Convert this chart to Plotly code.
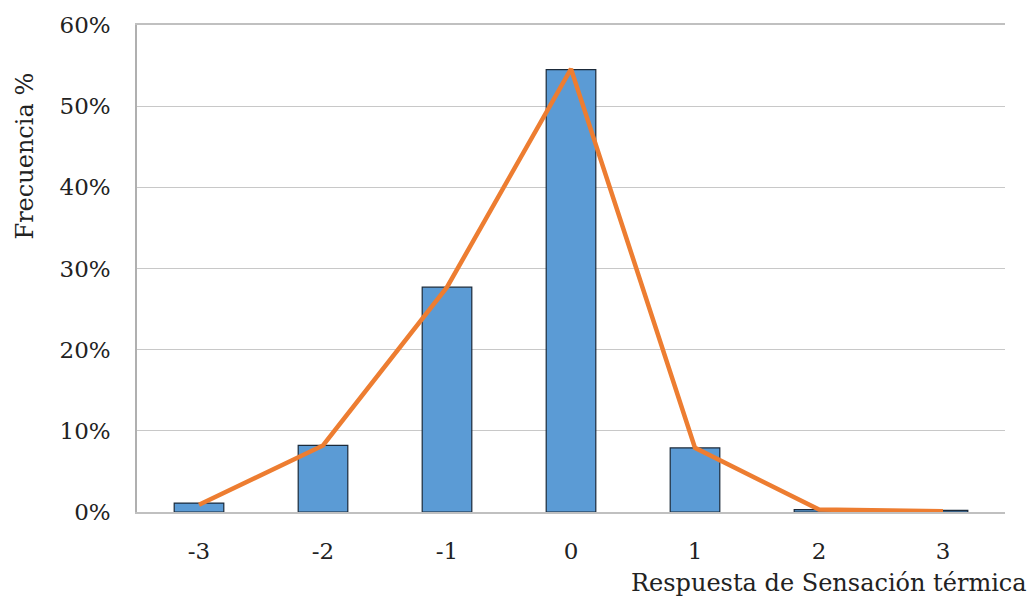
import plotly.graph_objects as go

# Thermal sensation votes (ASHRAE 7-point scale) and their frequency
categorias = [-3, -2, -1, 0, 1, 2, 3]
frecuencia = [1.1, 8.2, 27.7, 54.5, 7.9, 0.3, 0.2]   # % of responses (bars)
tendencia = [0.9, 8.2, 27.7, 54.6, 7.9, 0.3, 0.1]    # % frequency polygon (line)
ticks_y = [0, 10, 20, 30, 40, 50, 60]
etiquetas_y = [f"{v}%" for v in ticks_y]

FONT = "DejaVu Serif"
TXT = "#222222"

fig = go.Figure()
fig.add_trace(go.Bar(
    x=categorias, y=frecuencia, width=0.4,
    marker=dict(color="#5B9BD5", line=dict(color="#1b2a3a", width=1.2)),
    showlegend=False, hoverinfo="skip",
))
fig.add_trace(go.Scatter(
    x=categorias, y=tendencia, mode="lines",
    line=dict(color="#ED7D31", width=4.5),
    showlegend=False, hoverinfo="skip",
))

fig.update_layout(
    width=1031, height=598,
    margin=dict(l=137, r=26, t=19, b=86),
    plot_bgcolor="white", paper_bgcolor="white",
    font=dict(family=FONT, size=24, color=TXT),
    xaxis=dict(
        range=[-3.5, 3.5], tickmode="array", tickvals=categorias,
        ticktext=[str(c) for c in categorias],
        showgrid=False, zeroline=False,
        showline=True, mirror=True, linecolor="#c0c0c0", linewidth=1.5,
        ticks="", ticklabelstandoff=18,
        tickfont=dict(family=FONT, size=23, color=TXT),
    ),
    yaxis=dict(
        range=[0, 60], tickmode="array", tickvals=ticks_y, ticktext=etiquetas_y,
        showgrid=True, gridcolor="#c8c8c8", gridwidth=1.2,
        zeroline=False, showline=True, linecolor="#b0b0b0", linewidth=1.5,
        ticks="", ticklabelstandoff=20,
        tickfont=dict(family=FONT, size=23, color=TXT),
    ),
    annotations=[
        dict(text="Frecuencia %", textangle=-90, xref="paper", yref="paper",
             x=-0.129, y=0.73, xanchor="center", yanchor="middle",
             showarrow=False, font=dict(family=FONT, size=24, color=TXT)),
        dict(text="Respuesta de Sensación térmica", xref="paper", yref="paper",
             x=1.028, y=-0.145, xanchor="right", yanchor="middle",
             showarrow=False, font=dict(family=FONT, size=24, color=TXT)),
    ],
)

fig.write_html("out.html")
